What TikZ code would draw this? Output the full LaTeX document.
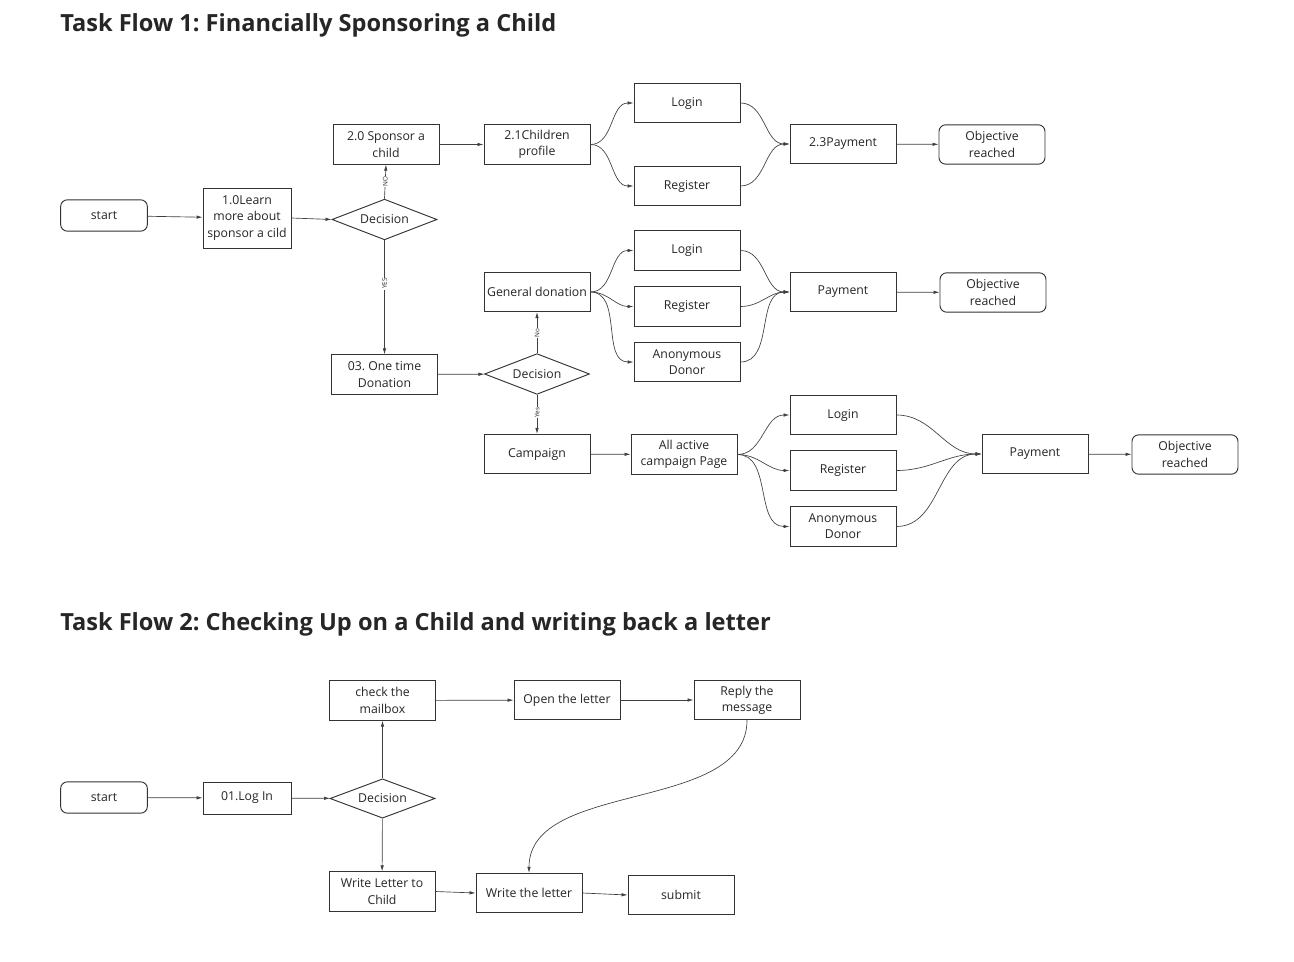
\documentclass[tikz,border=0pt]{standalone}
\usepackage{fontspec}
\setmainfont{Open Sans}
\usetikzlibrary{shapes.geometric,arrows.meta}
\frenchspacing
\begin{document}
\begin{tikzpicture}[x=0.75pt,y=-0.75pt,
  every node/.style={font=\fontsize{9.2}{12.2}\selectfont, text=black!85},
  box/.style={draw=black!80, line width=0.7pt, minimum width=79.5pt, minimum height=29.5pt, align=center, inner sep=1pt},
  rbox/.style={box, rounded corners=5pt},
  srbox/.style={rbox, minimum width=65pt, minimum height=23.5pt},
  dec/.style={draw=black!80, line width=0.7pt, diamond, minimum width=78.75pt, minimum height=30.5pt, inner sep=0pt, aspect=2.6},
  arr/.style={draw=black!75, line width=0.5pt, -{Latex[length=4.5pt,width=2.6pt]}},
  lbl/.style={font=\fontsize{4.8}{5}\selectfont, fill=white, inner sep=0.6pt, rotate=90},
  title/.style={font=\fontsize{17.7}{20}\selectfont\bfseries, text=black!85, anchor=west, inner sep=0pt}
]
\useasboundingbox[fill=white] (0,0) rectangle (1294,962);

\node[title] (t1) at (60,25) {Task Flow 1: Financially Sponsoring a Child};
\node[title] (t2) at (60,624) {Task Flow 2: Checking Up on a Child and writing back a letter};

% Task flow 1
\node[srbox] (start1) at (104,215.5) {start};
\node[box, minimum width=66pt, minimum height=45pt] (learn) at (247,218) {1.0Learn\\more about\\sponsor a cild};
\node[dec] (dec1) at (384.5,219.5) {Decision};
\node[box] (sponsor) at (386,144.5) {2.0 Sponsor a\\child};
\node[box] (children) at (537,144.5) {2.1Children\\profile};
\node[box] (login1) at (687,103) {Login};
\node[box] (register1) at (687,186) {Register};
\node[box] (pay1) at (843,144) {2.3Payment};
\node[rbox] (obj1) at (992,144.5) {Objective\\reached};

\node[box] (general) at (537,292) {General donation};
\node[box] (login2) at (687,250.5) {Login};
\node[box] (register2) at (687,306.5) {Register};
\node[box] (anon2) at (687,362) {Anonymous\\Donor};
\node[box] (pay2) at (843,292) {Payment};
\node[rbox] (obj2) at (993,292.5) {Objective\\reached};

\node[box] (onetime) at (384.5,374.5) {03. One time\\Donation};
\node[dec] (dec2) at (537,374) {Decision};
\node[box] (campaign) at (537,454) {Campaign};
\node[box] (allactive) at (684,454.5) {All active\\campaign Page};
\node[box] (login3) at (843,415) {Login};
\node[box] (register3) at (843,470.5) {Register};
\node[box] (anon3) at (843,526.5) {Anonymous\\Donor};
\node[box] (pay3) at (1035,454) {Payment};
\node[rbox] (obj3) at (1185,454.5) {Objective\\reached};

\draw[arr] (start1) -- (learn);
\draw[arr] (learn.east) -- (dec1.west);
\draw[arr] (dec1.north) -- node[lbl, pos=0.5] {NO} (sponsor.south);
\draw[arr] (dec1.south) -- node[lbl, pos=0.38] {YES} (onetime.north);
\draw[arr] (sponsor) -- (children);
\draw[arr] (children.east) to[out=0,in=180] (login1.west);
\draw[arr] (children.east) to[out=0,in=180] (register1.west);
\draw[arr] (login1.east) to[out=0,in=180] (pay1.west);
\draw[arr] (register1.east) to[out=0,in=180] (pay1.west);
\draw[arr] (pay1) -- (obj1);

\draw[arr] (onetime) -- (dec2);
\draw[arr] (dec2.north) -- node[lbl, pos=0.5] {No} (general.south);
\draw[arr] (dec2.south) -- node[lbl, pos=0.45] {Yes} (campaign.north);
\draw[arr] (general.east) to[out=0,in=180] (login2.west);
\draw[arr] (general.east) to[out=0,in=180] (register2.west);
\draw[arr] (general.east) to[out=0,in=180] (anon2.west);
\draw[arr] (login2.east) to[out=0,in=180] (pay2.west);
\draw[arr] (register2.east) to[out=0,in=180] (pay2.west);
\draw[arr] (anon2.east) to[out=0,in=180] (pay2.west);
\draw[arr] (pay2) -- (obj2);

\draw[arr] (campaign) -- (allactive);
\draw[arr] (allactive.east) to[out=0,in=180] (login3.west);
\draw[arr] (allactive.east) to[out=0,in=180] (register3.west);
\draw[arr] (allactive.east) to[out=0,in=180] (anon3.west);
\draw[arr] (login3.east) to[out=0,in=180] (pay3.west);
\draw[arr] (register3.east) to[out=0,in=180] (pay3.west);
\draw[arr] (anon3.east) to[out=0,in=180] (pay3.west);
\draw[arr] (pay3) -- (obj3);

% Task flow 2
\node[srbox] (start2) at (104,797.5) {start};
\node[box, minimum width=66pt, minimum height=24pt] (login) at (247,798) {01.Log In};
\node[dec, minimum height=29.5pt] (dec3) at (382.5,798.5) {Decision};
\node[box] (mailbox) at (382.5,700.5) {check the\\mailbox};
\node[box] (open) at (567,700) {Open the letter};
\node[box] (reply) at (747,700) {Reply the\\message};
\node[box] (writechild) at (382,891.5) {Write Letter to\\Child};
\node[box] (writeletter) at (529,893) {Write the letter};
\node[box] (submit) at (681,895) {submit};

\draw[arr] (start2) -- (login);
\draw[arr] (login) -- (dec3);
\draw[arr] (dec3) -- (mailbox);
\draw[arr] (dec3) -- (writechild);
\draw[arr] (mailbox) -- (open);
\draw[arr] (open) -- (reply);
\draw[arr] (reply.south) to[out=-90,in=90, looseness=0.9] (writeletter.north);
\draw[arr] (writechild.east) -- (writeletter.west);
\draw[arr] (writeletter.east) -- (submit.west);
\end{tikzpicture}
\end{document}
